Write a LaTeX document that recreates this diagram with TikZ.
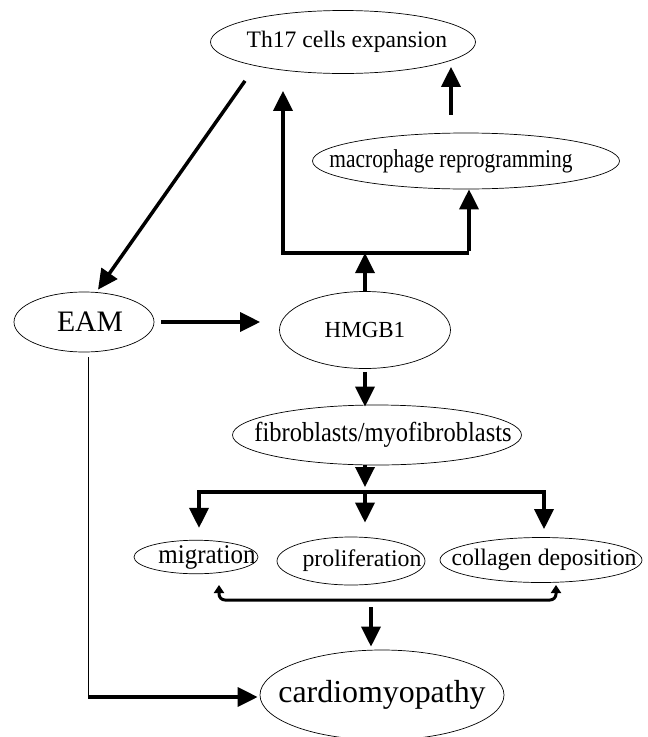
\documentclass[tikz,border=0pt]{standalone}
\usepackage{fontspec}
\setmainfont{Liberation Serif}
\usetikzlibrary{shapes.geometric,arrows.meta,calc}
\newcommand\fs[1]{\fontsize{#1}{#1}\selectfont}
\begin{document}
\begin{tikzpicture}[x=1pt,y=-1pt,
  ell/.style={draw,ellipse,line width=0.7pt,inner sep=0pt},
  arr/.style={line width=3.5pt,-{Triangle[length=20pt,width=19pt]}},
  thickline/.style={line width=3.5pt},
  bracketarr/.style={line width=3pt,rounded corners=6pt,{Triangle[length=8pt,width=10pt]}-{Triangle[length=8pt,width=10pt]}},
  thinline/.style={line width=0.8pt}
]
\useasboundingbox (0,0) rectangle (648,737);

% nodes
\node[ell,minimum width=265pt,minimum height=63pt,font=\fs{23.6}] (th17) at (343,42) {\makebox[0pt]{\hspace*{8pt}Th17 cells expansion}};
\node[ell,minimum width=307pt,minimum height=56pt,font=\fs{21.4}] (macro) at (466,161) {\makebox[0pt]{\scalebox{1}[1.2]{macrophage reprogramming}\hspace*{30pt}}};
\node[ell,minimum width=140pt,minimum height=60pt,font=\fs{29.7}] (eam) at (84,322) {\makebox[0pt]{\hspace*{12pt}EAM}};
\node[ell,minimum width=171pt,minimum height=77pt,font=\fs{23}] (hmgb) at (365,330) {\makebox[0pt]{HMGB1}};
\node[ell,minimum width=289pt,minimum height=60pt,font=\fs{24.5}] (fibro) at (377,435) {\makebox[0pt]{\hspace*{12pt}\scalebox{1}[1.12]{fibroblasts/myofibroblasts}}};
\node[ell,minimum width=124pt,minimum height=30pt,font=\fs{25}] (migr) at (196,557) {\makebox[0pt]{\hspace*{22pt}\scalebox{1}[1.08]{migration}}};
\node[ell,minimum width=148pt,minimum height=48pt,font=\fs{23.8}] (prolif) at (351,561) {\makebox[0pt]{\hspace*{22pt}proliferation}};
\node[ell,minimum width=202pt,minimum height=45pt,font=\fs{23.7}] (coll) at (541,560) {\makebox[0pt]{\hspace*{6pt}collagen deposition}};
\node[ell,minimum width=244pt,minimum height=90pt,font=\fs{31.9}] (cardio) at (382,695) {\makebox[0pt]{cardiomyopathy}};

% coordinates for junctions and free ends
\coordinate (jl) at (283,253);
\coordinate (jr) at (469,253);
\coordinate (bl) at (199,492);
\coordinate (br) at (544,492);
\coordinate (cl) at (219,585);
\coordinate (cr) at (556,585);
\coordinate (ms) at (371,607);
\coordinate (ec) at (88,697);

% Th17 -> EAM
\draw[arr] ([shift={(-98pt,-7pt)}]th17.south) -- ([shift={(14pt,2pt)}]eam.north);
% EAM -> HMGB1
\draw[arr] ([xshift=7pt]eam.east) -- ([xshift=-19pt]hmgb.west |- eam.east);
% HMGB1 -> branch up
\draw[arr] (hmgb.north) -- (hmgb.north |- jl);
\draw[arr] (jr) -- (jl) -- ([shift={(-60pt,-17pt)}]th17.south);
\draw[arr] ([yshift=1.75pt]jr) -- (jr |- macro.south);
% macrophage -> Th17
\draw[arr] ([shift={(-15pt,18pt)}]macro.north) -- ([shift={(108pt,7pt)}]th17.south);
% HMGB1 -> fibroblasts
\draw[arr] ([yshift=-3pt]hmgb.south) -- ([yshift=-2pt]hmgb.south |- fibro.north);
% fibroblasts -> branch down
\draw[arr] (hmgb.south |- fibro.south) -- ([yshift=5pt]hmgb.south |- bl);
\draw[thickline] (bl) -- (br);
\draw[arr] ([yshift=1.75pt]bl) -- ([yshift=12pt]bl |- migr.north);
\draw[arr] (hmgb.south |- bl) -- ([yshift=14pt]hmgb.south |- prolif.north);
\draw[arr] ([yshift=1.75pt]br) -- ([yshift=8pt]br |- coll.north);
% bracket
\draw[bracketarr] (cl) -- (cl |- 0,600) -- (cr |- 0,600) -- (cr);
% -> cardiomyopathy
\draw[arr] (ms) -- ([yshift=3pt]ms |- cardio.north);
% EAM -> cardiomyopathy
\draw[thinline] ([shift={(4pt,-5pt)}]eam.south) -- ([yshift=-1.75pt]ec);
\draw[arr] (ec) -- ([xshift=-2pt]ec -| cardio.west);
\end{tikzpicture}
\end{document}
